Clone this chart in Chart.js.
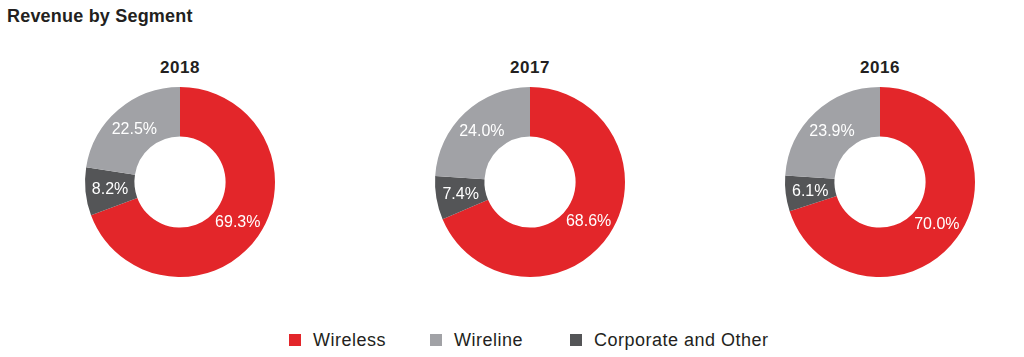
<!DOCTYPE html>
<html>
<head>
<meta charset="utf-8">
<script src="https://cdn.jsdelivr.net/npm/chart.js@4.4.1/dist/chart.umd.min.js"></script>
<style>
  html, body { margin: 0; padding: 0; background: #fff; }
  body { width: 1024px; height: 357px; position: relative; overflow: hidden; font-family: "Liberation Sans", Arial, sans-serif; color: #231f20; }
  #title { position: absolute; left: 7px; top: 6px; font-size: 18px; font-weight: bold; letter-spacing: 0.2px; }
  .year { position: absolute; width: 200px; text-align: center; top: 58px; font-size: 17px; font-weight: bold; letter-spacing: 0.5px; }
  .pie { position: absolute; top: 82px; width: 200px; height: 200px; }
  #legend { position: absolute; top: 329px; left: 0; width: 1024px; height: 22px; }
  .li { position: absolute; top: 0; font-size: 18px; line-height: 22px; white-space: nowrap; letter-spacing: 0.5px; }
  .sw { display: inline-block; width: 12px; height: 12px; vertical-align: 0; margin-right: 12px; }
</style>
</head>
<body>
<div id="title">Revenue by Segment</div>
<div id="legend"></div>
<script>
const years = ['2018', '2017', '2016'];
const categories = ['Wireless', 'Corporate and Other', 'Wireline'];
const wireless = [69.3, 68.6, 70.0];
const corporate = [8.2, 7.4, 6.1];
const wireline = [22.5, 24.0, 23.9];
const colors = ['#e3262a', '#545557', '#a1a2a6'];
const legendOrder = [0, 2, 1];

const centers = [180, 530, 880];
const legendX = [289, 430, 570];

const labelPlugin = {
  id: 'ringLabels',
  afterDatasetsDraw(chart) {
    const ctx = chart.ctx;
    const meta = chart.getDatasetMeta(0);
    const data = chart.data.datasets[0].data;
    ctx.save();
    ctx.fillStyle = '#ffffff';
    ctx.font = '16px "Liberation Sans", Arial, sans-serif';
    ctx.textAlign = 'center';
    ctx.textBaseline = 'middle';
    meta.data.forEach((arc, i) => {
      const p = arc.tooltipPosition();
      ctx.fillText(data[i].toFixed(1) + '%', p.x, p.y + 1);
    });
    ctx.restore();
  }
};

years.forEach((yr, k) => {
  const t = document.createElement('div');
  t.className = 'year';
  t.style.left = (centers[k] - 100) + 'px';
  t.textContent = yr;
  document.body.appendChild(t);

  const d = document.createElement('div');
  d.className = 'pie';
  d.style.left = (centers[k] - 100) + 'px';
  const c = document.createElement('canvas');
  d.appendChild(c);
  document.body.appendChild(d);

  new Chart(c, {
    type: 'doughnut',
    data: {
      labels: categories,
      datasets: [{
        data: [wireless[k], corporate[k], wireline[k]],
        backgroundColor: colors,
        borderWidth: 0
      }]
    },
    options: {
      responsive: true,
      maintainAspectRatio: false,
      animation: false,
      cutout: '48%',
      layout: { padding: 5 },
      plugins: { legend: { display: false }, tooltip: { enabled: false }, title: { display: false } }
    },
    plugins: [labelPlugin]
  });
});

const lg = document.getElementById('legend');
legendOrder.forEach((idx, j) => {
  const item = document.createElement('div');
  item.className = 'li';
  item.style.left = legendX[j] + 'px';
  const sw = document.createElement('span');
  sw.className = 'sw';
  sw.style.background = colors[idx];
  item.appendChild(sw);
  item.appendChild(document.createTextNode(categories[idx]));
  lg.appendChild(item);
});
</script>
</body>
</html>
